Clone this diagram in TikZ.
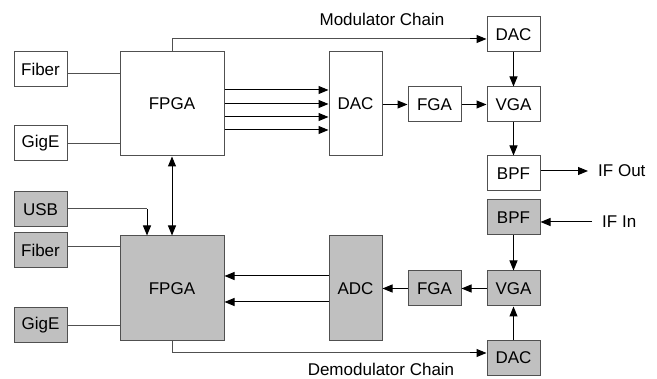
\documentclass[tikz,border=0pt]{standalone}
\usepackage{fontspec}
\setmainfont{Liberation Sans}
\usetikzlibrary{arrows.meta}
\definecolor{boxgray}{RGB}{192,192,192}
\definecolor{edgegray}{RGB}{80,80,80}
\begin{document}
\begin{tikzpicture}[x=1pt,y=-1pt,
  blk/.style={draw=edgegray,line width=1pt,minimum width=53pt,minimum height=35pt,inner sep=0pt,font=\fontsize{17}{19}\selectfont},
  tall/.style={blk,minimum height=104pt},
  big/.style={blk,minimum width=104pt,minimum height=104pt},
  shaded/.style={fill=boxgray},
  plain/.style={draw=edgegray,line width=1pt},
  arr/.style={draw=black,line width=1pt,-{Triangle[length=10pt,width=8pt]}},
  lbl/.style={font=\fontsize{17}{19}\selectfont,inner sep=0pt}]
\useasboundingbox (0,0) rectangle (657,379);
% upper half
\node[blk] (fib1) at (40.5,69.5) {Fiber};
\node[blk] (gig1) at (40.5,143.5) {GigE};
\node[big] (fpga1) at (172,104) {FPGA};
\node[tall] (dac1) at (355.5,104) {DAC};
\node[blk] (dact) at (513.5,34.5) {DAC};
\node[blk] (fga1) at (434.5,104.5) {FGA};
\node[blk] (vga1) at (513.5,104.5) {VGA};
\node[blk] (bpf1) at (513.5,173.5) {BPF};
% lower half
\node[blk,shaded] (usb) at (40.5,209.5) {USB};
\node[blk,shaded] (fib2) at (40.5,250.5) {Fiber};
\node[blk,shaded] (gig2) at (40.5,325.5) {GigE};
\node[big,shaded,minimum height=105pt] (fpga2) at (172,288.5) {FPGA};
\node[tall,shaded,minimum height=105pt] (adc) at (355.5,288.5) {ADC};
\node[blk,shaded] (fga2) at (434.5,288.5) {FGA};
\node[blk,shaded] (vga2) at (513.5,288.5) {VGA};
\node[blk,shaded] (bpf2) at (513.5,217.5) {BPF};
\node[blk,shaded] (dac2) at (513.5,358) {DAC};
% labels
\node[lbl,anchor=base] (modl) at (382,26) {Modulator Chain};
\node[lbl,anchor=base] (demodl) at (381,375.5) {Demodulator Chain};
\node[lbl,anchor=west] (ifout) at (598,171) {IF Out};
\node[lbl,anchor=west] (ifin) at (602,222) {IF In};
\coordinate (ifoutend) at (588,171);
\coordinate (ifinstart) at (592,222);
% upper connectors
\draw[plain] ([yshift=-4.5pt]fib1.east) -- ([yshift=-4.5pt]fib1.east -| fpga1.west);
\draw[plain] (gig1.east) -- (gig1.east -| fpga1.west);
\draw[plain] (fpga1.north) -- (172,39) -- (478,39);
\draw[arr] (470,39) -- (dact.west |- 0,39);
\foreach \yy in {90,104,117,130}
  \draw[arr] (fpga1.east |- 0,\yy) -- (dac1.west |- 0,\yy);
\draw[arr] (dac1.east |- fga1.west) -- (fga1.west);
\draw[arr] (fga1) -- (vga1);
\draw[arr] (dact) -- (vga1);
\draw[arr] (vga1) -- (bpf1);
\draw[arr] (bpf1.east |- ifoutend) -- (ifoutend);
\draw[arr,{Triangle[length=10pt,width=8pt]}-{Triangle[length=10pt,width=8pt]}] (fpga1.south) -- (fpga2.north);
% lower connectors
\draw[plain] (usb.east |- 0,209) -- (147,209);
\draw[arr] (147,209) -- (fpga2.north -| 147,0);
\draw[plain] ([yshift=3.5pt]fib2.east) -- ([yshift=3.5pt]fib2.east -| fpga2.west);
\draw[plain] (gig2.east) -- (gig2.east -| fpga2.west);
\draw[arr] (ifinstart) -- (bpf2.east |- ifinstart);
\draw[arr] (bpf2) -- (vga2);
\draw[arr] (dac2) -- (vga2);
\draw[arr] (vga2) -- (fga2);
\draw[arr] (fga2) -- (adc.east |- fga2.west);
\foreach \yy in {276,302}
  \draw[arr] (adc.west |- 0,\yy) -- (fpga2.east |- 0,\yy);
\draw[plain] (fpga2.south) -- (172,353) -- (478,353);
\draw[arr] (470,353) -- (dac2.west |- 0,353);
\end{tikzpicture}
\end{document}
